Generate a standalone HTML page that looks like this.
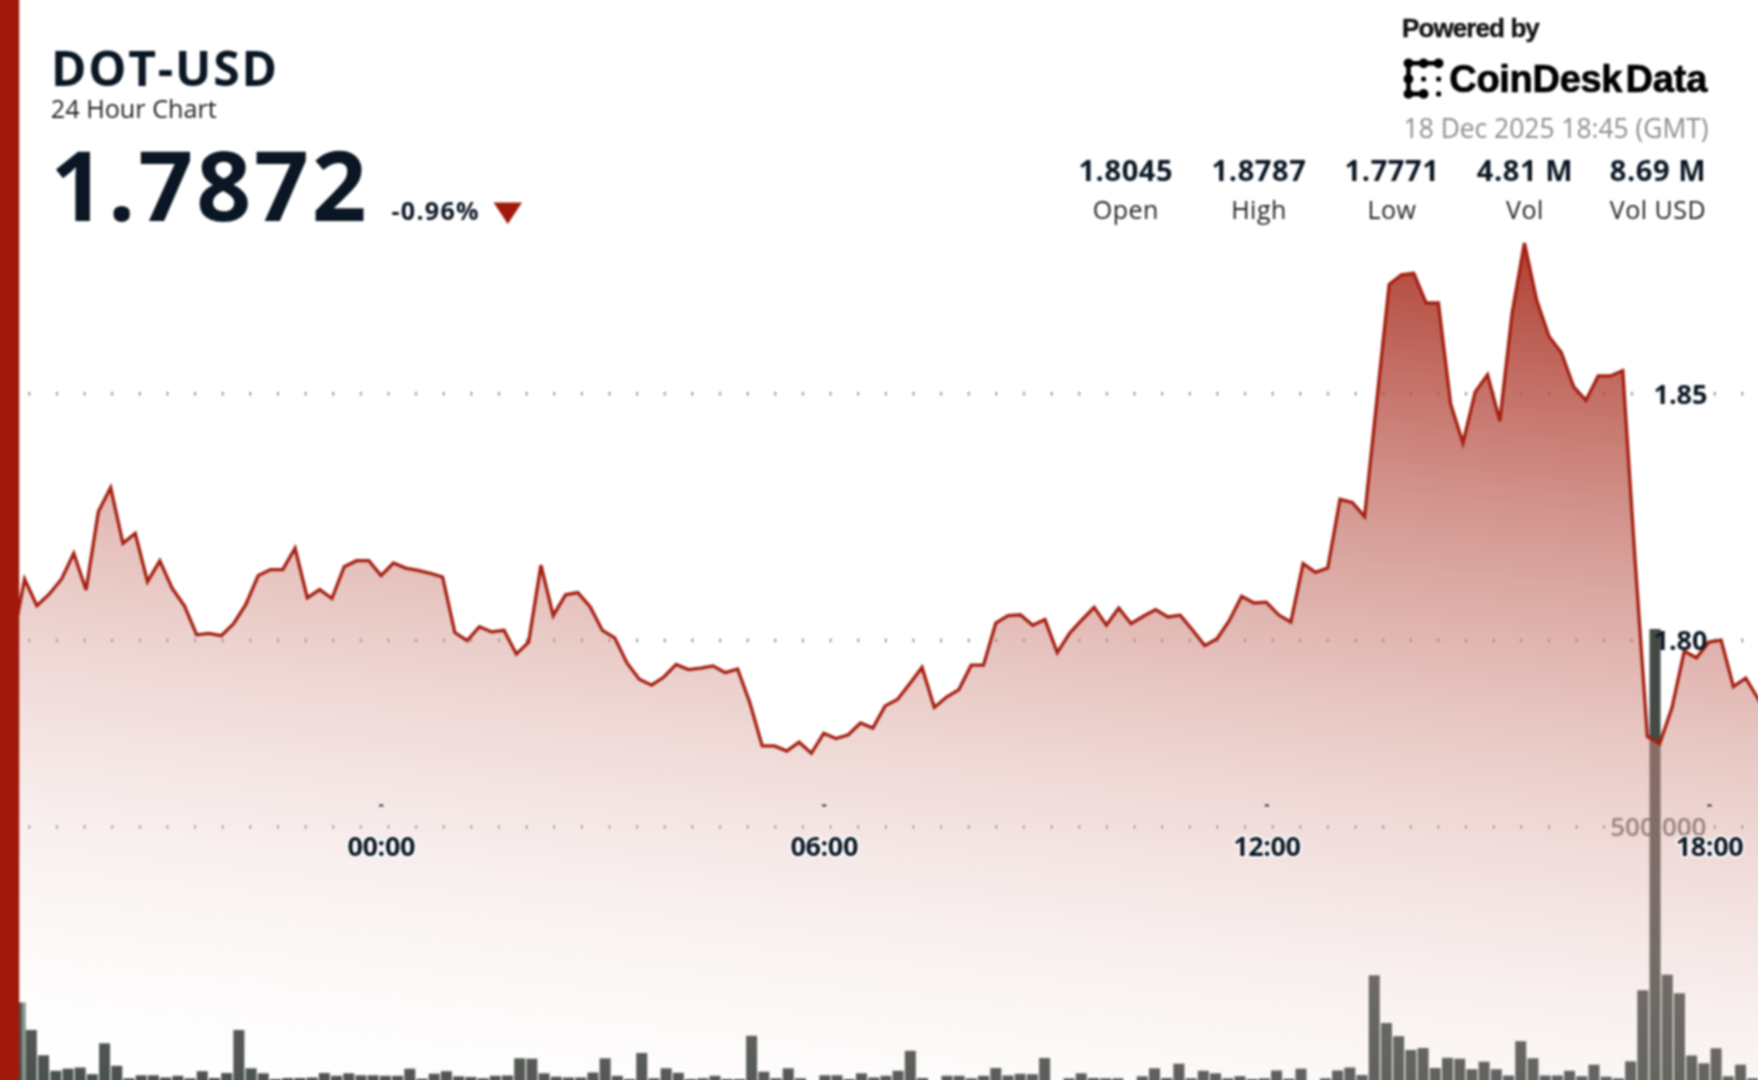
<!DOCTYPE html>
<html><head><meta charset="utf-8"><style>
html,body{margin:0;padding:0;background:#fff;}
body{width:1758px;height:1080px;overflow:hidden;position:relative;}
svg{position:absolute;left:0;top:0;display:block;}
.wrap{position:absolute;left:-12px;top:-12px;width:1782px;height:1104px;filter:blur(0.8px);}
.lbl{paint-order:stroke;stroke:#fff;stroke-width:3.6px;stroke-linejoin:round;}
</style></head><body>
<div class="wrap">
<svg width="1782" height="1104" viewBox="-12 -12 1782 1104">
<defs>
<linearGradient id="ag" gradientUnits="userSpaceOnUse" x1="1400" y1="132" x2="1275.8" y2="1261.3">
<stop offset="0.000" stop-color="rgb(160,25,10)" stop-opacity="1.000"/><stop offset="0.050" stop-color="rgb(165,36,22)" stop-opacity="0.950"/><stop offset="0.100" stop-color="rgb(170,48,34)" stop-opacity="0.900"/><stop offset="0.150" stop-color="rgb(174,60,47)" stop-opacity="0.850"/><stop offset="0.200" stop-color="rgb(179,71,59)" stop-opacity="0.800"/><stop offset="0.250" stop-color="rgb(184,82,71)" stop-opacity="0.750"/><stop offset="0.300" stop-color="rgb(188,94,84)" stop-opacity="0.700"/><stop offset="0.350" stop-color="rgb(193,106,96)" stop-opacity="0.650"/><stop offset="0.400" stop-color="rgb(198,117,108)" stop-opacity="0.600"/><stop offset="0.450" stop-color="rgb(203,128,120)" stop-opacity="0.550"/><stop offset="0.500" stop-color="rgb(208,140,132)" stop-opacity="0.500"/><stop offset="0.550" stop-color="rgb(212,152,145)" stop-opacity="0.450"/><stop offset="0.600" stop-color="rgb(217,163,157)" stop-opacity="0.400"/><stop offset="0.650" stop-color="rgb(222,174,169)" stop-opacity="0.350"/><stop offset="0.700" stop-color="rgb(226,186,182)" stop-opacity="0.300"/><stop offset="0.750" stop-color="rgb(231,198,194)" stop-opacity="0.250"/><stop offset="0.800" stop-color="rgb(236,209,206)" stop-opacity="0.200"/><stop offset="0.850" stop-color="rgb(241,220,218)" stop-opacity="0.150"/><stop offset="0.900" stop-color="rgb(246,232,230)" stop-opacity="0.100"/><stop offset="0.950" stop-color="rgb(250,244,243)" stop-opacity="0.050"/><stop offset="1.000" stop-color="rgb(255,255,255)" stop-opacity="0.000"/>
</linearGradient>
</defs>
<g fill="#505050"><rect x="-26.56" y="392.0" width="1.2" height="3.4"/><rect x="1.07" y="392.0" width="1.2" height="3.4"/><rect x="28.70" y="392.0" width="1.2" height="3.4"/><rect x="56.33" y="392.0" width="1.2" height="3.4"/><rect x="83.96" y="392.0" width="1.2" height="3.4"/><rect x="111.59" y="392.0" width="1.2" height="3.4"/><rect x="139.22" y="392.0" width="1.2" height="3.4"/><rect x="166.85" y="392.0" width="1.2" height="3.4"/><rect x="194.48" y="392.0" width="1.2" height="3.4"/><rect x="222.11" y="392.0" width="1.2" height="3.4"/><rect x="249.74" y="392.0" width="1.2" height="3.4"/><rect x="277.37" y="392.0" width="1.2" height="3.4"/><rect x="305.00" y="392.0" width="1.2" height="3.4"/><rect x="332.63" y="392.0" width="1.2" height="3.4"/><rect x="360.26" y="392.0" width="1.2" height="3.4"/><rect x="387.89" y="392.0" width="1.2" height="3.4"/><rect x="415.52" y="392.0" width="1.2" height="3.4"/><rect x="443.15" y="392.0" width="1.2" height="3.4"/><rect x="470.78" y="392.0" width="1.2" height="3.4"/><rect x="498.41" y="392.0" width="1.2" height="3.4"/><rect x="526.04" y="392.0" width="1.2" height="3.4"/><rect x="553.67" y="392.0" width="1.2" height="3.4"/><rect x="581.30" y="392.0" width="1.2" height="3.4"/><rect x="608.93" y="392.0" width="1.2" height="3.4"/><rect x="636.56" y="392.0" width="1.2" height="3.4"/><rect x="664.19" y="392.0" width="1.2" height="3.4"/><rect x="691.82" y="392.0" width="1.2" height="3.4"/><rect x="719.45" y="392.0" width="1.2" height="3.4"/><rect x="747.08" y="392.0" width="1.2" height="3.4"/><rect x="774.71" y="392.0" width="1.2" height="3.4"/><rect x="802.34" y="392.0" width="1.2" height="3.4"/><rect x="829.97" y="392.0" width="1.2" height="3.4"/><rect x="857.60" y="392.0" width="1.2" height="3.4"/><rect x="885.23" y="392.0" width="1.2" height="3.4"/><rect x="912.86" y="392.0" width="1.2" height="3.4"/><rect x="940.49" y="392.0" width="1.2" height="3.4"/><rect x="968.12" y="392.0" width="1.2" height="3.4"/><rect x="995.75" y="392.0" width="1.2" height="3.4"/><rect x="1023.38" y="392.0" width="1.2" height="3.4"/><rect x="1051.01" y="392.0" width="1.2" height="3.4"/><rect x="1078.64" y="392.0" width="1.2" height="3.4"/><rect x="1106.27" y="392.0" width="1.2" height="3.4"/><rect x="1133.90" y="392.0" width="1.2" height="3.4"/><rect x="1161.53" y="392.0" width="1.2" height="3.4"/><rect x="1189.16" y="392.0" width="1.2" height="3.4"/><rect x="1216.79" y="392.0" width="1.2" height="3.4"/><rect x="1244.42" y="392.0" width="1.2" height="3.4"/><rect x="1272.05" y="392.0" width="1.2" height="3.4"/><rect x="1299.68" y="392.0" width="1.2" height="3.4"/><rect x="1327.31" y="392.0" width="1.2" height="3.4"/><rect x="1354.94" y="392.0" width="1.2" height="3.4"/><rect x="1382.57" y="392.0" width="1.2" height="3.4"/><rect x="1410.20" y="392.0" width="1.2" height="3.4"/><rect x="1437.83" y="392.0" width="1.2" height="3.4"/><rect x="1465.46" y="392.0" width="1.2" height="3.4"/><rect x="1493.09" y="392.0" width="1.2" height="3.4"/><rect x="1520.72" y="392.0" width="1.2" height="3.4"/><rect x="1548.35" y="392.0" width="1.2" height="3.4"/><rect x="1575.98" y="392.0" width="1.2" height="3.4"/><rect x="1603.61" y="392.0" width="1.2" height="3.4"/><rect x="1631.24" y="392.0" width="1.2" height="3.4"/><rect x="1714.13" y="392.0" width="1.2" height="3.4"/><rect x="1741.76" y="392.0" width="1.2" height="3.4"/><rect x="1769.39" y="392.0" width="1.2" height="3.4"/><rect x="-26.56" y="638.6999999999999" width="1.2" height="3.4"/><rect x="1.07" y="638.6999999999999" width="1.2" height="3.4"/><rect x="28.70" y="638.6999999999999" width="1.2" height="3.4"/><rect x="56.33" y="638.6999999999999" width="1.2" height="3.4"/><rect x="83.96" y="638.6999999999999" width="1.2" height="3.4"/><rect x="111.59" y="638.6999999999999" width="1.2" height="3.4"/><rect x="139.22" y="638.6999999999999" width="1.2" height="3.4"/><rect x="166.85" y="638.6999999999999" width="1.2" height="3.4"/><rect x="194.48" y="638.6999999999999" width="1.2" height="3.4"/><rect x="222.11" y="638.6999999999999" width="1.2" height="3.4"/><rect x="249.74" y="638.6999999999999" width="1.2" height="3.4"/><rect x="277.37" y="638.6999999999999" width="1.2" height="3.4"/><rect x="305.00" y="638.6999999999999" width="1.2" height="3.4"/><rect x="332.63" y="638.6999999999999" width="1.2" height="3.4"/><rect x="360.26" y="638.6999999999999" width="1.2" height="3.4"/><rect x="387.89" y="638.6999999999999" width="1.2" height="3.4"/><rect x="415.52" y="638.6999999999999" width="1.2" height="3.4"/><rect x="443.15" y="638.6999999999999" width="1.2" height="3.4"/><rect x="470.78" y="638.6999999999999" width="1.2" height="3.4"/><rect x="498.41" y="638.6999999999999" width="1.2" height="3.4"/><rect x="526.04" y="638.6999999999999" width="1.2" height="3.4"/><rect x="553.67" y="638.6999999999999" width="1.2" height="3.4"/><rect x="581.30" y="638.6999999999999" width="1.2" height="3.4"/><rect x="608.93" y="638.6999999999999" width="1.2" height="3.4"/><rect x="636.56" y="638.6999999999999" width="1.2" height="3.4"/><rect x="664.19" y="638.6999999999999" width="1.2" height="3.4"/><rect x="691.82" y="638.6999999999999" width="1.2" height="3.4"/><rect x="719.45" y="638.6999999999999" width="1.2" height="3.4"/><rect x="747.08" y="638.6999999999999" width="1.2" height="3.4"/><rect x="774.71" y="638.6999999999999" width="1.2" height="3.4"/><rect x="802.34" y="638.6999999999999" width="1.2" height="3.4"/><rect x="829.97" y="638.6999999999999" width="1.2" height="3.4"/><rect x="857.60" y="638.6999999999999" width="1.2" height="3.4"/><rect x="885.23" y="638.6999999999999" width="1.2" height="3.4"/><rect x="912.86" y="638.6999999999999" width="1.2" height="3.4"/><rect x="940.49" y="638.6999999999999" width="1.2" height="3.4"/><rect x="968.12" y="638.6999999999999" width="1.2" height="3.4"/><rect x="995.75" y="638.6999999999999" width="1.2" height="3.4"/><rect x="1023.38" y="638.6999999999999" width="1.2" height="3.4"/><rect x="1051.01" y="638.6999999999999" width="1.2" height="3.4"/><rect x="1078.64" y="638.6999999999999" width="1.2" height="3.4"/><rect x="1106.27" y="638.6999999999999" width="1.2" height="3.4"/><rect x="1133.90" y="638.6999999999999" width="1.2" height="3.4"/><rect x="1161.53" y="638.6999999999999" width="1.2" height="3.4"/><rect x="1189.16" y="638.6999999999999" width="1.2" height="3.4"/><rect x="1216.79" y="638.6999999999999" width="1.2" height="3.4"/><rect x="1244.42" y="638.6999999999999" width="1.2" height="3.4"/><rect x="1272.05" y="638.6999999999999" width="1.2" height="3.4"/><rect x="1299.68" y="638.6999999999999" width="1.2" height="3.4"/><rect x="1327.31" y="638.6999999999999" width="1.2" height="3.4"/><rect x="1354.94" y="638.6999999999999" width="1.2" height="3.4"/><rect x="1382.57" y="638.6999999999999" width="1.2" height="3.4"/><rect x="1410.20" y="638.6999999999999" width="1.2" height="3.4"/><rect x="1437.83" y="638.6999999999999" width="1.2" height="3.4"/><rect x="1465.46" y="638.6999999999999" width="1.2" height="3.4"/><rect x="1493.09" y="638.6999999999999" width="1.2" height="3.4"/><rect x="1520.72" y="638.6999999999999" width="1.2" height="3.4"/><rect x="1548.35" y="638.6999999999999" width="1.2" height="3.4"/><rect x="1575.98" y="638.6999999999999" width="1.2" height="3.4"/><rect x="1603.61" y="638.6999999999999" width="1.2" height="3.4"/><rect x="1631.24" y="638.6999999999999" width="1.2" height="3.4"/><rect x="1714.13" y="638.6999999999999" width="1.2" height="3.4"/><rect x="1741.76" y="638.6999999999999" width="1.2" height="3.4"/><rect x="1769.39" y="638.6999999999999" width="1.2" height="3.4"/><rect x="-26.56" y="825.3" width="1.2" height="3.4"/><rect x="1.07" y="825.3" width="1.2" height="3.4"/><rect x="28.70" y="825.3" width="1.2" height="3.4"/><rect x="56.33" y="825.3" width="1.2" height="3.4"/><rect x="83.96" y="825.3" width="1.2" height="3.4"/><rect x="111.59" y="825.3" width="1.2" height="3.4"/><rect x="139.22" y="825.3" width="1.2" height="3.4"/><rect x="166.85" y="825.3" width="1.2" height="3.4"/><rect x="194.48" y="825.3" width="1.2" height="3.4"/><rect x="222.11" y="825.3" width="1.2" height="3.4"/><rect x="249.74" y="825.3" width="1.2" height="3.4"/><rect x="277.37" y="825.3" width="1.2" height="3.4"/><rect x="305.00" y="825.3" width="1.2" height="3.4"/><rect x="332.63" y="825.3" width="1.2" height="3.4"/><rect x="360.26" y="825.3" width="1.2" height="3.4"/><rect x="387.89" y="825.3" width="1.2" height="3.4"/><rect x="415.52" y="825.3" width="1.2" height="3.4"/><rect x="443.15" y="825.3" width="1.2" height="3.4"/><rect x="470.78" y="825.3" width="1.2" height="3.4"/><rect x="498.41" y="825.3" width="1.2" height="3.4"/><rect x="526.04" y="825.3" width="1.2" height="3.4"/><rect x="553.67" y="825.3" width="1.2" height="3.4"/><rect x="581.30" y="825.3" width="1.2" height="3.4"/><rect x="608.93" y="825.3" width="1.2" height="3.4"/><rect x="636.56" y="825.3" width="1.2" height="3.4"/><rect x="664.19" y="825.3" width="1.2" height="3.4"/><rect x="691.82" y="825.3" width="1.2" height="3.4"/><rect x="719.45" y="825.3" width="1.2" height="3.4"/><rect x="747.08" y="825.3" width="1.2" height="3.4"/><rect x="774.71" y="825.3" width="1.2" height="3.4"/><rect x="802.34" y="825.3" width="1.2" height="3.4"/><rect x="829.97" y="825.3" width="1.2" height="3.4"/><rect x="857.60" y="825.3" width="1.2" height="3.4"/><rect x="885.23" y="825.3" width="1.2" height="3.4"/><rect x="912.86" y="825.3" width="1.2" height="3.4"/><rect x="940.49" y="825.3" width="1.2" height="3.4"/><rect x="968.12" y="825.3" width="1.2" height="3.4"/><rect x="995.75" y="825.3" width="1.2" height="3.4"/><rect x="1023.38" y="825.3" width="1.2" height="3.4"/><rect x="1051.01" y="825.3" width="1.2" height="3.4"/><rect x="1078.64" y="825.3" width="1.2" height="3.4"/><rect x="1106.27" y="825.3" width="1.2" height="3.4"/><rect x="1133.90" y="825.3" width="1.2" height="3.4"/><rect x="1161.53" y="825.3" width="1.2" height="3.4"/><rect x="1189.16" y="825.3" width="1.2" height="3.4"/><rect x="1216.79" y="825.3" width="1.2" height="3.4"/><rect x="1244.42" y="825.3" width="1.2" height="3.4"/><rect x="1272.05" y="825.3" width="1.2" height="3.4"/><rect x="1299.68" y="825.3" width="1.2" height="3.4"/><rect x="1327.31" y="825.3" width="1.2" height="3.4"/><rect x="1354.94" y="825.3" width="1.2" height="3.4"/><rect x="1382.57" y="825.3" width="1.2" height="3.4"/><rect x="1410.20" y="825.3" width="1.2" height="3.4"/><rect x="1437.83" y="825.3" width="1.2" height="3.4"/><rect x="1465.46" y="825.3" width="1.2" height="3.4"/><rect x="1493.09" y="825.3" width="1.2" height="3.4"/><rect x="1520.72" y="825.3" width="1.2" height="3.4"/><rect x="1548.35" y="825.3" width="1.2" height="3.4"/><rect x="1575.98" y="825.3" width="1.2" height="3.4"/><rect x="1603.61" y="825.3" width="1.2" height="3.4"/><rect x="1714.13" y="825.3" width="1.2" height="3.4"/><rect x="1741.76" y="825.3" width="1.2" height="3.4"/><rect x="1769.39" y="825.3" width="1.2" height="3.4"/></g>
<text class="lbl" x="1706.5" y="835.8" text-anchor="end" font-family="'Open Sans','Liberation Sans',sans-serif" font-weight="600" font-size="26" fill="#6e6e6e" style="stroke-width:4px">500,000</text>
<g fill="#434A45"><rect x="1.40" y="1000.0" width="11" height="94.0"/><rect x="13.61" y="1002.5" width="8.99" height="91.5"/><rect x="22.6" y="1002.5" width="3.2" height="91.5" fill="#7d8c87"/><rect x="25.82" y="1030.0" width="11" height="64.0"/><rect x="38.03" y="1055.3" width="11" height="38.7"/><rect x="50.24" y="1070.8" width="11" height="23.2"/><rect x="62.45" y="1068.7" width="11" height="25.3"/><rect x="74.65" y="1067.5" width="11" height="26.5"/><rect x="86.86" y="1074.2" width="11" height="19.8"/><rect x="99.07" y="1043.3" width="11" height="50.7"/><rect x="111.28" y="1065.8" width="11" height="28.2"/><rect x="123.49" y="1078.3" width="11" height="15.7"/><rect x="135.70" y="1075.3" width="11" height="18.7"/><rect x="147.90" y="1075.3" width="11" height="18.7"/><rect x="160.11" y="1077.5" width="11" height="16.5"/><rect x="172.32" y="1075.8" width="11" height="18.2"/><rect x="184.53" y="1078.3" width="11" height="15.7"/><rect x="196.74" y="1071.2" width="11" height="22.8"/><rect x="208.95" y="1078.0" width="11" height="16.0"/><rect x="221.15" y="1073.0" width="11" height="21.0"/><rect x="233.36" y="1030.0" width="11" height="64.0"/><rect x="245.57" y="1068.3" width="11" height="25.7"/><rect x="257.78" y="1073.3" width="11" height="20.7"/><rect x="269.99" y="1079.0" width="11" height="15.0"/><rect x="282.20" y="1078.0" width="11" height="16.0"/><rect x="294.40" y="1078.0" width="11" height="16.0"/><rect x="306.61" y="1077.5" width="11" height="16.5"/><rect x="318.82" y="1073.0" width="11" height="21.0"/><rect x="331.03" y="1075.8" width="11" height="18.2"/><rect x="343.24" y="1073.3" width="11" height="20.7"/><rect x="355.45" y="1075.3" width="11" height="18.7"/><rect x="367.65" y="1075.3" width="11" height="18.7"/><rect x="379.86" y="1075.8" width="11" height="18.2"/><rect x="392.07" y="1075.8" width="11" height="18.2"/><rect x="404.28" y="1068.7" width="11" height="25.3"/><rect x="416.49" y="1078.7" width="11" height="15.3"/><rect x="428.70" y="1073.7" width="11" height="20.3"/><rect x="440.90" y="1071.2" width="11" height="22.8"/><rect x="453.11" y="1076.3" width="11" height="17.7"/><rect x="465.32" y="1077.0" width="11" height="17.0"/><rect x="477.53" y="1078.3" width="11" height="15.7"/><rect x="489.74" y="1075.8" width="11" height="18.2"/><rect x="501.95" y="1075.5" width="11" height="18.5"/><rect x="514.15" y="1058.3" width="11" height="35.7"/><rect x="526.36" y="1058.7" width="11" height="35.3"/><rect x="538.57" y="1073.3" width="11" height="20.7"/><rect x="550.78" y="1076.7" width="11" height="17.3"/><rect x="562.99" y="1077.5" width="11" height="16.5"/><rect x="575.20" y="1077.5" width="11" height="16.5"/><rect x="587.40" y="1072.5" width="11" height="21.5"/><rect x="599.61" y="1058.3" width="11" height="35.7"/><rect x="611.82" y="1075.8" width="11" height="18.2"/><rect x="624.03" y="1079.0" width="11" height="15.0"/><rect x="636.24" y="1053.0" width="11" height="41.0"/><rect x="648.45" y="1078.3" width="11" height="15.7"/><rect x="660.65" y="1068.3" width="11" height="25.7"/><rect x="672.86" y="1072.8" width="11" height="21.2"/><rect x="685.07" y="1079.0" width="11" height="15.0"/><rect x="697.28" y="1078.3" width="11" height="15.7"/><rect x="709.49" y="1075.8" width="11" height="18.2"/><rect x="721.70" y="1079.0" width="11" height="15.0"/><rect x="733.90" y="1079.0" width="11" height="15.0"/><rect x="746.11" y="1035.8" width="11" height="58.2"/><rect x="758.32" y="1071.7" width="11" height="22.3"/><rect x="770.53" y="1078.3" width="11" height="15.7"/><rect x="782.74" y="1068.3" width="11" height="25.7"/><rect x="794.95" y="1078.3" width="11" height="15.7"/><rect x="819.36" y="1075.3" width="11" height="18.7"/><rect x="831.57" y="1075.3" width="11" height="18.7"/><rect x="843.78" y="1079.0" width="11" height="15.0"/><rect x="855.99" y="1073.3" width="11" height="20.7"/><rect x="868.20" y="1077.5" width="11" height="16.5"/><rect x="880.40" y="1075.8" width="11" height="18.2"/><rect x="892.61" y="1070.8" width="11" height="23.2"/><rect x="904.82" y="1050.8" width="11" height="43.2"/><rect x="917.03" y="1078.0" width="11" height="16.0"/><rect x="941.45" y="1075.8" width="11" height="18.2"/><rect x="953.65" y="1075.8" width="11" height="18.2"/><rect x="965.86" y="1078.3" width="11" height="15.7"/><rect x="978.07" y="1075.8" width="11" height="18.2"/><rect x="990.28" y="1068.0" width="11" height="26.0"/><rect x="1002.49" y="1075.5" width="11" height="18.5"/><rect x="1014.70" y="1073.8" width="11" height="20.2"/><rect x="1026.90" y="1074.2" width="11" height="19.8"/><rect x="1039.11" y="1058.0" width="11" height="36.0"/><rect x="1063.53" y="1078.3" width="11" height="15.7"/><rect x="1075.74" y="1073.3" width="11" height="20.7"/><rect x="1087.95" y="1078.0" width="11" height="16.0"/><rect x="1100.15" y="1078.3" width="11" height="15.7"/><rect x="1112.36" y="1078.3" width="11" height="15.7"/><rect x="1136.78" y="1076.3" width="11" height="17.7"/><rect x="1148.99" y="1068.3" width="11" height="25.7"/><rect x="1161.20" y="1078.0" width="11" height="16.0"/><rect x="1173.40" y="1063.7" width="11" height="30.3"/><rect x="1185.61" y="1078.3" width="11" height="15.7"/><rect x="1197.82" y="1070.8" width="11" height="23.2"/><rect x="1210.03" y="1073.3" width="11" height="20.7"/><rect x="1222.24" y="1078.3" width="11" height="15.7"/><rect x="1234.45" y="1076.2" width="11" height="17.8"/><rect x="1246.65" y="1079.0" width="11" height="15.0"/><rect x="1258.86" y="1078.3" width="11" height="15.7"/><rect x="1271.07" y="1070.5" width="11" height="23.5"/><rect x="1283.28" y="1078.7" width="11" height="15.3"/><rect x="1295.49" y="1068.7" width="11" height="25.3"/><rect x="1319.90" y="1078.3" width="11" height="15.7"/><rect x="1332.11" y="1070.5" width="11" height="23.5"/><rect x="1344.32" y="1067.5" width="11" height="26.5"/><rect x="1356.53" y="1075.0" width="11" height="19.0"/><rect x="1368.74" y="975.3" width="11" height="118.7"/><rect x="1380.95" y="1023.0" width="11" height="71.0"/><rect x="1393.15" y="1036.2" width="11" height="57.8"/><rect x="1405.36" y="1050.0" width="11" height="44.0"/><rect x="1417.57" y="1048.0" width="11" height="46.0"/><rect x="1429.78" y="1068.0" width="11" height="26.0"/><rect x="1441.99" y="1057.8" width="11" height="36.2"/><rect x="1454.20" y="1058.7" width="11" height="35.3"/><rect x="1466.40" y="1069.2" width="11" height="24.8"/><rect x="1478.61" y="1061.7" width="11" height="32.3"/><rect x="1490.82" y="1069.2" width="11" height="24.8"/><rect x="1503.03" y="1075.5" width="11" height="18.5"/><rect x="1515.24" y="1041.2" width="11" height="52.8"/><rect x="1527.45" y="1058.3" width="11" height="35.7"/><rect x="1539.65" y="1075.5" width="11" height="18.5"/><rect x="1551.86" y="1075.5" width="11" height="18.5"/><rect x="1564.07" y="1070.8" width="11" height="23.2"/><rect x="1576.28" y="1076.2" width="11" height="17.8"/><rect x="1588.49" y="1064.7" width="11" height="29.3"/><rect x="1600.70" y="1076.7" width="11" height="17.3"/><rect x="1612.90" y="1078.3" width="11" height="15.7"/><rect x="1625.11" y="1061.3" width="11" height="32.7"/><rect x="1637.32" y="990.3" width="11" height="103.7"/><rect x="1649.53" y="629.0" width="11" height="465.0"/><rect x="1661.74" y="974.7" width="11" height="119.3"/><rect x="1673.95" y="993.3" width="11" height="100.7"/><rect x="1686.15" y="1055.5" width="11" height="38.5"/><rect x="1698.36" y="1063.3" width="11" height="30.7"/><rect x="1710.57" y="1048.3" width="11" height="45.7"/><rect x="1722.78" y="1076.3" width="11" height="17.7"/><rect x="1734.99" y="1064.7" width="11" height="29.3"/><rect x="1747.20" y="1078.3" width="11" height="15.7"/></g>
<path d="M-12,637.07 L0.00,640.00 L12.29,643.00 L24.59,579.00 L36.88,605.80 L49.17,594.20 L61.47,579.20 L73.76,553.30 L86.06,590.00 L98.35,511.70 L110.64,487.50 L122.94,543.30 L135.23,533.30 L147.52,581.70 L159.82,560.80 L172.11,588.10 L184.41,605.90 L196.70,634.80 L208.99,633.30 L221.29,635.60 L233.58,623.70 L245.87,604.40 L258.17,575.60 L270.46,569.60 L282.76,569.60 L295.05,548.10 L307.34,597.80 L319.64,589.60 L331.93,598.50 L344.22,566.70 L356.52,560.70 L368.81,560.70 L381.10,575.60 L393.40,563.00 L405.69,568.10 L417.99,570.40 L430.28,573.30 L442.57,577.00 L454.87,632.60 L467.16,640.70 L479.45,626.70 L491.75,631.90 L504.04,630.40 L516.34,654.10 L528.63,642.20 L540.92,565.20 L553.22,615.60 L565.51,594.80 L577.80,592.60 L590.10,606.70 L602.39,630.40 L614.69,637.80 L626.98,663.00 L639.27,679.30 L651.57,685.20 L663.86,677.00 L676.15,664.40 L688.45,669.60 L700.74,668.10 L713.03,665.90 L725.33,672.60 L737.62,669.00 L749.92,703.00 L762.21,745.90 L774.50,745.90 L786.80,751.10 L799.09,742.20 L811.38,753.30 L823.68,733.30 L835.97,738.50 L848.27,734.80 L860.56,723.00 L872.85,728.10 L885.15,705.90 L897.44,699.50 L909.73,683.70 L922.03,667.40 L934.32,707.40 L946.62,697.00 L958.91,689.60 L971.20,665.20 L983.50,665.20 L995.79,623.00 L1008.08,615.60 L1020.38,614.80 L1032.67,625.20 L1044.97,619.60 L1057.26,652.60 L1069.55,633.30 L1081.85,620.00 L1094.14,607.40 L1106.43,625.20 L1118.73,608.10 L1131.02,623.70 L1143.31,616.30 L1155.61,609.60 L1167.90,617.00 L1180.20,615.20 L1192.49,630.00 L1204.78,645.60 L1217.08,638.70 L1229.37,620.50 L1241.66,596.30 L1253.96,603.00 L1266.25,602.20 L1278.55,614.80 L1290.84,622.20 L1303.13,563.50 L1315.43,572.40 L1327.72,568.00 L1340.01,499.30 L1352.31,502.50 L1364.60,516.50 L1376.90,400.00 L1389.19,284.40 L1401.48,274.80 L1413.78,273.30 L1426.07,303.00 L1438.36,303.00 L1450.66,404.00 L1462.95,443.00 L1475.24,391.90 L1487.54,374.80 L1499.83,421.00 L1512.13,313.00 L1524.42,243.00 L1536.71,300.30 L1549.01,336.50 L1561.30,352.50 L1573.59,386.50 L1585.89,400.40 L1598.18,375.90 L1610.48,375.90 L1622.77,370.60 L1635.06,560.00 L1647.36,736.50 L1659.65,743.90 L1671.94,707.80 L1684.24,651.30 L1696.53,657.80 L1708.83,642.00 L1721.12,640.20 L1733.41,686.50 L1745.71,678.10 L1758.00,698.50 L1770,718.41 L1770,1094 L-12,1094 Z" fill="url(#ag)"/>
<path d="M-12,637.07 L0.00,640.00 L12.29,643.00 L24.59,579.00 L36.88,605.80 L49.17,594.20 L61.47,579.20 L73.76,553.30 L86.06,590.00 L98.35,511.70 L110.64,487.50 L122.94,543.30 L135.23,533.30 L147.52,581.70 L159.82,560.80 L172.11,588.10 L184.41,605.90 L196.70,634.80 L208.99,633.30 L221.29,635.60 L233.58,623.70 L245.87,604.40 L258.17,575.60 L270.46,569.60 L282.76,569.60 L295.05,548.10 L307.34,597.80 L319.64,589.60 L331.93,598.50 L344.22,566.70 L356.52,560.70 L368.81,560.70 L381.10,575.60 L393.40,563.00 L405.69,568.10 L417.99,570.40 L430.28,573.30 L442.57,577.00 L454.87,632.60 L467.16,640.70 L479.45,626.70 L491.75,631.90 L504.04,630.40 L516.34,654.10 L528.63,642.20 L540.92,565.20 L553.22,615.60 L565.51,594.80 L577.80,592.60 L590.10,606.70 L602.39,630.40 L614.69,637.80 L626.98,663.00 L639.27,679.30 L651.57,685.20 L663.86,677.00 L676.15,664.40 L688.45,669.60 L700.74,668.10 L713.03,665.90 L725.33,672.60 L737.62,669.00 L749.92,703.00 L762.21,745.90 L774.50,745.90 L786.80,751.10 L799.09,742.20 L811.38,753.30 L823.68,733.30 L835.97,738.50 L848.27,734.80 L860.56,723.00 L872.85,728.10 L885.15,705.90 L897.44,699.50 L909.73,683.70 L922.03,667.40 L934.32,707.40 L946.62,697.00 L958.91,689.60 L971.20,665.20 L983.50,665.20 L995.79,623.00 L1008.08,615.60 L1020.38,614.80 L1032.67,625.20 L1044.97,619.60 L1057.26,652.60 L1069.55,633.30 L1081.85,620.00 L1094.14,607.40 L1106.43,625.20 L1118.73,608.10 L1131.02,623.70 L1143.31,616.30 L1155.61,609.60 L1167.90,617.00 L1180.20,615.20 L1192.49,630.00 L1204.78,645.60 L1217.08,638.70 L1229.37,620.50 L1241.66,596.30 L1253.96,603.00 L1266.25,602.20 L1278.55,614.80 L1290.84,622.20 L1303.13,563.50 L1315.43,572.40 L1327.72,568.00 L1340.01,499.30 L1352.31,502.50 L1364.60,516.50 L1376.90,400.00 L1389.19,284.40 L1401.48,274.80 L1413.78,273.30 L1426.07,303.00 L1438.36,303.00 L1450.66,404.00 L1462.95,443.00 L1475.24,391.90 L1487.54,374.80 L1499.83,421.00 L1512.13,313.00 L1524.42,243.00 L1536.71,300.30 L1549.01,336.50 L1561.30,352.50 L1573.59,386.50 L1585.89,400.40 L1598.18,375.90 L1610.48,375.90 L1622.77,370.60 L1635.06,560.00 L1647.36,736.50 L1659.65,743.90 L1671.94,707.80 L1684.24,651.30 L1696.53,657.80 L1708.83,642.00 L1721.12,640.20 L1733.41,686.50 L1745.71,678.10 L1758.00,698.50 L1770,718.41" fill="none" stroke="#A41F10" stroke-width="3.3" stroke-linejoin="miter" stroke-miterlimit="4"/>
<g fill="#111"><rect x="379.15" y="804.6" width="4.2" height="1.7"/><rect x="822.1" y="804.6" width="4.2" height="1.7"/><rect x="1264.8000000000002" y="804.6" width="4.2" height="1.7"/><rect x="1707.4" y="804.6" width="4.2" height="1.7"/></g>
<g font-family="'Open Sans','Liberation Sans',sans-serif" font-weight="700" font-size="27" fill="#0A1623" text-anchor="middle" letter-spacing="-0.4">
<text class="lbl" x="381.25" y="856">00:00</text><text class="lbl" x="824.2" y="856">06:00</text><text class="lbl" x="1266.9" y="856">12:00</text><text class="lbl" x="1709.5" y="856">18:00</text>
</g>
<g font-family="'Open Sans','Liberation Sans',sans-serif" font-weight="700" font-size="27" fill="#0A1623" text-anchor="end">
<text class="lbl" x="1707.5" y="403.5">1.85</text>
<text x="1707.5" y="650.3">1.80</text>
</g>
<!-- header -->
<g font-family="'Open Sans','Liberation Sans',sans-serif" fill="#0A1623">
<text x="50.9" y="85.5" font-size="48" font-weight="700" letter-spacing="1.8">DOT-USD</text>
<text x="50.8" y="118" font-size="25.2" font-weight="400" fill="#222">24 Hour Chart</text>
<text x="50.3" y="221" font-size="96" font-weight="700" letter-spacing="2.9">1.7872</text>
<text x="391.5" y="220.4" font-size="25" font-weight="700" letter-spacing="1.3">-0.96%</text>
</g>
<polygon points="493.6,202.5 522,202.5 507.8,224" fill="#A0190A"/>
<g font-family="'Open Sans','Liberation Sans',sans-serif" fill="#0A1623" text-anchor="middle">
<g font-size="29" font-weight="700" letter-spacing="0.6">
<text x="1125.8" y="180.7">1.8045</text>
<text x="1259" y="180.7">1.8787</text>
<text x="1392" y="180.7">1.7771</text>
<text x="1525" y="180.7">4.81 M</text>
<text x="1658" y="180.7">8.69 M</text>
</g>
<g font-size="25" font-weight="400" fill="#222" letter-spacing="0.5">
<text x="1125.8" y="218.5">Open</text>
<text x="1259" y="218.5">High</text>
<text x="1392" y="218.5">Low</text>
<text x="1525" y="218.5">Vol</text>
<text x="1658" y="218.5">Vol USD</text>
</g>
</g>
<text x="1708.5" y="138.3" text-anchor="end" font-family="'Open Sans','Liberation Sans',sans-serif" font-size="26.4" fill="#8c8c8c">18 Dec 2025 18:45 (GMT)</text>
<text x="1402" y="37.3" font-family="'Liberation Sans',Arial,sans-serif" font-weight="700" font-size="26" letter-spacing="-0.9" fill="#111" stroke="#111" stroke-width="0.4">Powered by</text>
<g fill="#000">
<g stroke="#000" stroke-width="4.6" stroke-linecap="round">
<line x1="1408.5" y1="63.3" x2="1438.6" y2="63.3"/>
<line x1="1408.5" y1="63.3" x2="1408.5" y2="93.9"/>
<line x1="1408.5" y1="93.9" x2="1423.6" y2="93.9"/>
</g>
<circle cx="1408.5" cy="63.3" r="4.9"/><circle cx="1423.6" cy="63.3" r="4.9"/><circle cx="1438.6" cy="63.3" r="4.9"/>
<circle cx="1408.5" cy="79" r="4.9"/>
<circle cx="1408.5" cy="93.9" r="4.9"/><circle cx="1423.6" cy="93.9" r="4.9"/>
<circle cx="1423.6" cy="79" r="2.6"/><circle cx="1438.6" cy="79" r="2.6"/><circle cx="1438.6" cy="93.9" r="2.6"/>
</g>
<g font-family="'Liberation Sans',Arial,sans-serif" font-weight="700" font-size="38" fill="#000" stroke="#000" stroke-width="0.7"><text x="1449.3" y="92" letter-spacing="-0.3">CoinDesk</text><text x="1625.6" y="92" letter-spacing="-0.2">Data</text></g>
<rect x="-12" y="-12" width="31.2" height="1104" fill="#A0190A"/>
</svg>
</div>
</body></html>
